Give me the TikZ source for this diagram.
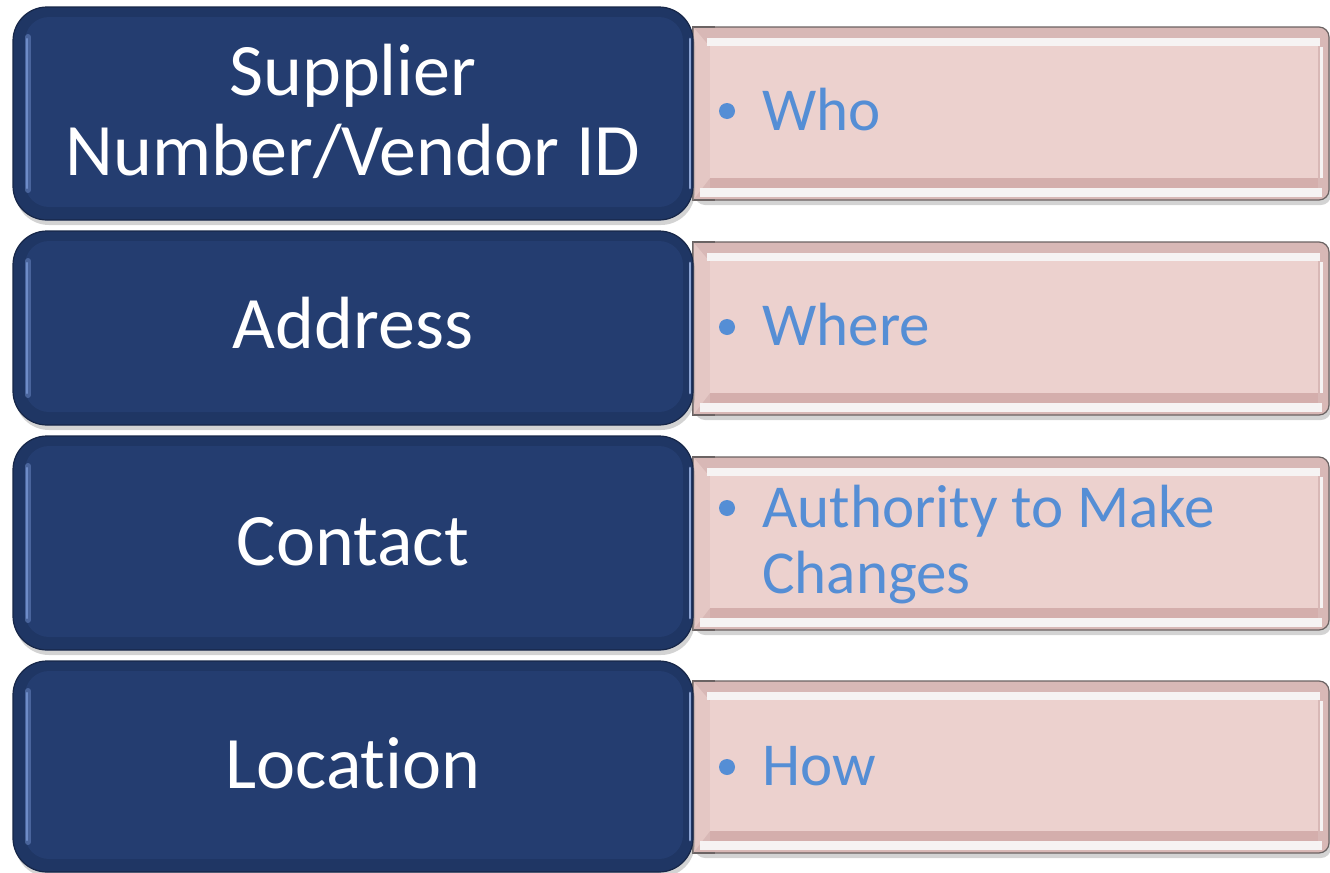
\documentclass[tikz,border=0pt]{standalone}
\usepackage{fontspec}
\setmainfont{Carlito}[Ligatures=NoCommon]
\usetikzlibrary{shadows}

\definecolor{navyface}{RGB}{36,61,112}
\definecolor{navyrim}{RGB}{31,54,100}
\definecolor{navyedge}{RGB}{22,38,72}
\definecolor{navyhl}{RGB}{110,140,200}
\definecolor{pinkface}{RGB}{236,209,206}
\definecolor{pinkrim}{RGB}{216,184,182}
\definecolor{pinkside}{RGB}{228,199,196}
\definecolor{pinkdark}{RGB}{212,174,172}
\definecolor{pinkhi}{RGB}{246,243,243}
\definecolor{rimgray}{RGB}{107,99,99}
\definecolor{infoblue}{RGB}{85,142,213}

\begin{document}
\begin{tikzpicture}[x=0.5pt, y=-0.5pt,
	boxshadow/.style={drop shadow={shadow xshift=1pt, shadow yshift=-2.5pt, opacity=0.35}},
	navytext/.style={text=white, inner sep=0pt, align=center, anchor=base, font=\fontsize{37}{40}\selectfont},
	infotext/.style={text=infoblue, inner sep=0pt, align=left, anchor=base west, font=\fontsize{30.5}{33}\selectfont}]
		 	\useasboundingbox (0,0) rectangle (1330,873);
		 	
		 	%navy key box, #1 = top, #2 = bottom
		 	\def\navybox#1#2{
		 		\draw[fill=navyrim, draw=navyedge, line width=0.6pt, rounded corners=17pt, boxshadow] (13,#1) rectangle (693,#2);
		 		\fill[navyface, rounded corners=12pt] (25,#1+10) rectangle (683,#2-13);
		 		\draw[navyhl, opacity=0.5, line width=3pt, line cap=round] (28,#1+30) -- (28,#2-30);
		 		\draw[navyhl, line width=1.2pt, line cap=round] (27,#1+32) -- (27,#2-32);
		 		\draw[navyhl!80!white, line width=1.4pt, line cap=round] (690,#1+32) -- (690,#2-32);
		 	}
		 	%pink info box, square on the left
		 	\def\pinkbox#1#2{
		 		\draw[fill=pinkrim, draw=rimgray, line width=0.6pt, rounded corners=5pt, boxshadow] (693,#1) rectangle (1329,#2);
		 		\fill[pinkrim] (693,#1) rectangle (715,#2);
		 		\draw[rimgray, line width=0.6pt] (715,#1) -- (693,#1) -- (693,#2) -- (715,#2);
		 		\fill[pinkside] (693.5,#1+0.5) -- (710,#1+20) -- (710,#2-22) -- (693.5,#2-0.5) -- cycle;
		 		\fill[pinkhi] (707,#1+11) rectangle (1320,#1+19);
		 		\fill[pinkhi] (700,#2-12) rectangle (1322,#2-3);
		 		\fill[pinkdark] (710,#2-22) rectangle (1318,#2-12);
		 		\fill[pinkface] (710,#1+19) rectangle (1318,#2-22);
		 		\draw[pinkhi, line width=1.5pt] (1321,#1+20) -- (1321,#2-22);
		 	}
		 	
		 	%One row
		 	\pinkbox{27}{200}
		 	\navybox{7}{220}
		 	\node[navytext] (supplier) at (353,175) {Supplier\\Number/Vendor ID};
		 	\fill[infoblue] (727,111) circle (4pt);
		 	\node[infotext] (who) at (762,130) {Who};
		 	
		 	%One row
		 	\pinkbox{242}{415}
		 	\navybox{231}{425}
		 	\node[navytext] (address) at (353,348) {Address};
		 	\fill[infoblue] (727,327) circle (4pt);
		 	\node[infotext] (where) at (762,345) {Where};
		 	
		 	%One row
		 	\pinkbox{457}{630}
		 	\navybox{436}{650}
		 	\node[navytext] (contact) at (353,565) {Contact};
		 	\fill[infoblue] (727,508) circle (4pt);
		 	\node[infotext] (authority) at (762,593) {Authority to Make\\Changes};
		 	
		 	%One row
		 	\pinkbox{681}{853}
		 	\navybox{661}{872}
		 	\node[navytext] (location) at (353,788) {Location};
		 	\fill[infoblue] (727,767) circle (4pt);
		 	\node[infotext] (how) at (762,785) {How};
\end{tikzpicture}
\end{document}
